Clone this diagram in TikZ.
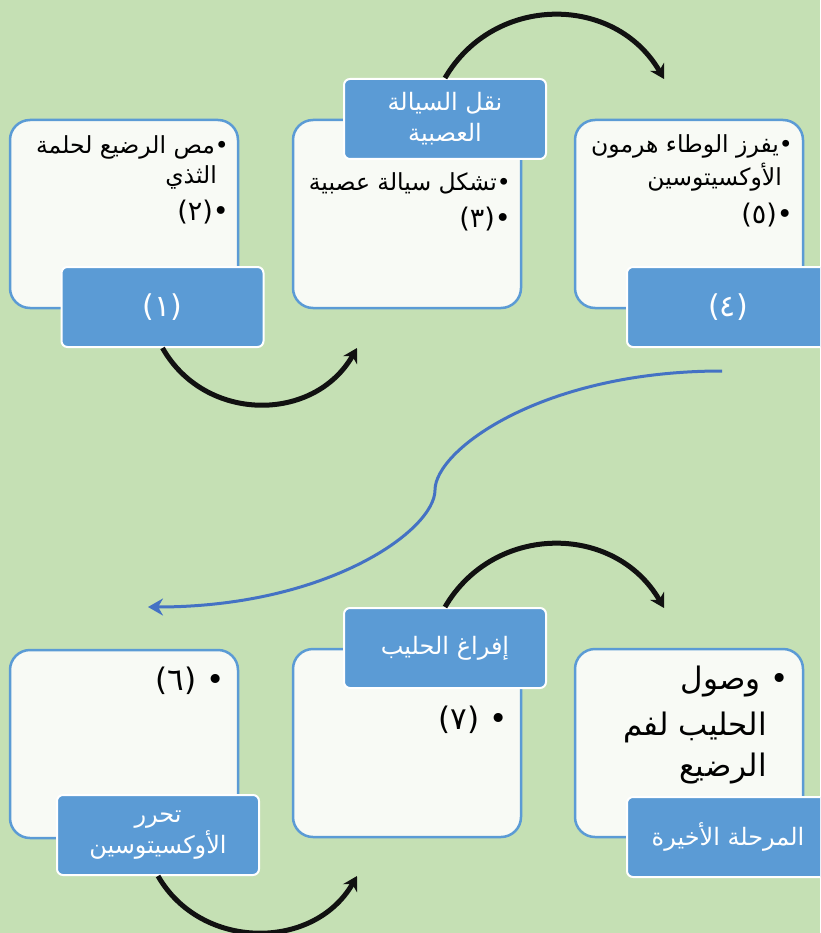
\documentclass[tikz,border=0pt]{standalone}
\usepackage{fontspec}
\newfontfamily\ar[Script=Arabic]{DejaVu Sans}
\TeXXeTstate=1
\usetikzlibrary{arrows.meta}
\definecolor{bg}{HTML}{C5E0B4}
\definecolor{boxfill}{HTML}{F8FAF5}
\definecolor{boxline}{HTML}{5B9BD5}
\definecolor{lblfill}{HTML}{5B9BD5}
\definecolor{conn}{HTML}{4472C4}
\definecolor{arr}{HTML}{111111}
\tikzset{
  card/.style={draw=boxline, line width=2.5pt, fill=boxfill, rounded corners=20pt,
    minimum width=228pt, minimum height=188pt, inner sep=0pt},
  lbl/.style={draw=white, line width=2pt, fill=lblfill, rounded corners=6pt,
    minimum width=202pt, minimum height=80pt, inner sep=0pt, text=white, align=center,
    font=\ar\fontsize{24}{31}\selectfont},
  txt/.style={inner sep=0pt, anchor=east, text=black, font=\ar\fontsize{23.5}{28}\selectfont},
  numtxt/.style={inner sep=0pt, anchor=east, text=black, font=\ar\fontsize{27}{30}\selectfont},
  bigtxt/.style={inner sep=0pt, anchor=east, text=black, font=\ar\fontsize{31}{36}\selectfont},
  curv/.style={draw=arr, line width=5pt, -{Stealth[length=14pt,width=16pt]}},
  sconn/.style={draw=conn, line width=3pt, -{Stealth[length=15pt,width=17pt]}}
}
\begin{document}
\begin{tikzpicture}[x=1pt,y=-1pt]
\fill[bg] (0,0) rectangle (820,933);
\useasboundingbox (0,0) rectangle (820,933);
\clip (0,0) rectangle (820,933);

% cards
\node[card] (b1) at (124,214) {};
\node[card] (b2) at (407,214) {};
\node[card] (b3) at (689,214) {};
\node[card] (b4) at (124,744) {};
\node[card] (b5) at (407,743) {};
\node[card] (b6) at (689,743) {};

% card texts
\node[txt] (t1a) at (229,147) {\beginR •مص الرضيع لحلمة\endR};
\node[txt] (t1b) at (217,177) {\beginR الثذي\endR};
\node[numtxt] (t1c) at (229,212) {\beginR •(٢)\endR};

\node[txt] (t2a) at (511,183) {\beginR •تشكل سيالة عصبية\endR};
\node[numtxt] (t2b) at (511,219) {\beginR •(٣)\endR};

\node[txt] (t3a) at (793,146) {\beginR •يفرز الوطاء هرمون\endR};
\node[txt] (t3b) at (782,177) {\beginR الأوكسيتوسين\endR};
\node[numtxt] (t3c) at (793,215) {\beginR •(٥)\endR};

\node[bigtxt] (t4a) at (225,681) {\beginR • (٦)\endR};
\node[bigtxt] (t5a) at (508,720) {\beginR • (٧)\endR};

\node[bigtxt] (t6a) at (789,681) {\beginR • وصول\endR};
\node[bigtxt] (t6b) at (767,727) {\beginR الحليب لفم\endR};
\node[bigtxt] (t6c) at (767,768) {\beginR الرضيع\endR};

% labels
\node[lbl] (l1) at (162.5,307) {\fontsize{30}{31}\selectfont\beginR (١)\endR};
\node[lbl] (l2) at (445,119) {\beginR نقل السيالة\endR\\\beginR العصبية\endR};
\node[lbl] (l3) at (728,307) {\fontsize{30}{31}\selectfont\beginR (٤)\endR};
\node[lbl] (l4) at (158,835) {\beginR تحرر\endR\\\beginR الأوكسيتوسين\endR};
\node[lbl] (l5) at (445,648) {\beginR إفراغ الحليب\endR};
\node[lbl] (l6) at (728,837) {\beginR المرحلة الأخيرة\endR};

% arrow end points
\coordinate (e1) at (357,348);
\coordinate (e2) at (664,79);
\coordinate (e3) at (664,608);
\coordinate (e4) at (357,876);
\coordinate (s0) at (722,371);
\coordinate (sm) at (435,490);
\coordinate (se) at (148,607);

\draw[curv] (l1.south) .. controls (205,423) and (314,423) .. (e1);
\draw[curv] (l2.north) .. controls (494,-6) and (615,-6) .. (e2);
\draw[curv] (l5.north) .. controls (494,523) and (615,523) .. (e3);
\draw[curv] (l4.south) .. controls (201,951) and (314,951) .. (e4);
\draw[sconn] (s0) .. controls (542,371) and (435,450) .. (sm)
  .. controls (435,530) and (328,607) .. (se);
\end{tikzpicture}
\end{document}
